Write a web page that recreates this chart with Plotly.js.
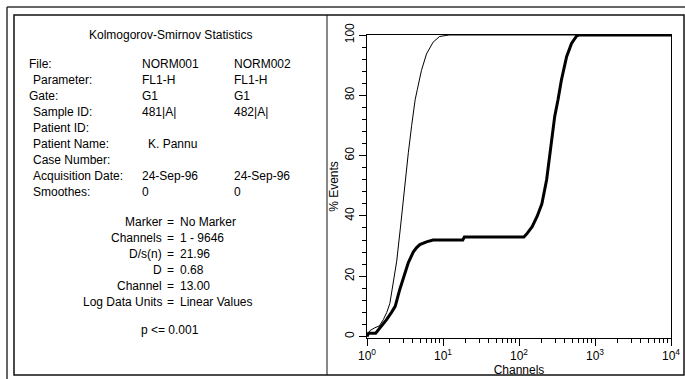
<!DOCTYPE html>
<html>
<head>
<meta charset="utf-8">
<script src="https://cdn.plot.ly/plotly-3.0.1.min.js"></script>
<style>html,body{margin:0;padding:0;background:#fff;}#chart{width:685px;height:379px;}</style>
</head>
<body>
<div id="chart"></div>
<script>
// ---- data ----
const norm001Channels = [1, 1.1, 1.27, 1.45, 1.64, 1.82, 2.0, 2.12, 2.25, 2.46, 2.75, 2.95, 3.16, 3.5, 3.87, 4.1, 4.3, 4.6, 5.2, 6.06, 7.4, 9.0, 12, 10000];
const norm001Events   = [0, 2, 2.9, 3.5, 5.6, 8, 11, 15, 19, 25, 36, 44, 50, 61, 70, 75, 78.5, 82, 88.2, 93.7, 97.6, 99.5, 100, 100];
const norm002Channels = [1, 1.05, 1.3, 1.48, 1.81, 2.1, 2.35, 2.7, 3.15, 3.5, 4.06, 4.5, 4.96, 6.06, 7.4, 18.2, 19.1, 116, 128, 149, 173, 200, 231, 265, 295, 326, 361, 423, 491, 570, 620, 10000];
const norm002Events   = [0, 1.1, 1.1, 2.8, 5.6, 8, 10, 15.6, 21, 24.5, 28, 29.5, 30.5, 31.4, 32, 32, 33, 33, 34.2, 36.4, 39.8, 44, 52, 65, 73, 78.5, 85, 92.8, 97.2, 99.6, 100, 100];

const xTickVals = [1, 10, 100, 1000, 10000];
const xTickText = ['10<sup>0</sup>', '10<sup>1</sup>', '10<sup>2</sup>', '10<sup>3</sup>', '10<sup>4</sup>'];

const statsTitle = 'Kolmogorov-Smirnov Statistics';
const infoLabels = ['File:', 'Parameter:', 'Gate:', 'Sample ID:', 'Patient ID:', 'Patient Name:', 'Case Number:', 'Acquisition Date:', 'Smoothes:'];
const infoCol1   = ['NORM001', 'FL1-H', 'G1', '481|A|', '', 'K. Pannu', '', '24-Sep-96', '0'];
const infoCol2   = ['NORM002', 'FL1-H', 'G1', '482|A|', '', '', '', '24-Sep-96', '0'];
const statNames  = ['Marker', 'Channels', 'D/s(n)', 'D', 'Channel', 'Log Data Units'];
const statValues = ['No Marker', '1 - 9646', '21.96', '0.68', '13.00', 'Linear Values'];
const pValueText = 'p <= 0.001';

// ---- geometry helpers (pixel -> paper) ----
const W = 685, H = 379, L = 367, R = 671, T = 35, B = 338;
const PW = R - L, PH = B - T;
const px = x => (x - L) / PW;
const py = y => (B - y) / PH;

const FONT = 'Liberation Sans, Arial, sans-serif';
const ann = [];
function txt(text, x, y, anchor, size) {
  ann.push({text: text, xref: 'paper', yref: 'paper', x: px(x), y: py(y),
    xanchor: anchor || 'left', yanchor: 'middle', showarrow: false,
    font: {family: FONT, size: size || 12, color: '#000'}});
}
txt(statsTitle, 170, 35, 'center');
const rowY0 = 64, rowDy = 16;
infoLabels.forEach((lab, i) => {
  const y = rowY0 + i * rowDy;
  const lx = (lab === 'File:' || lab === 'Gate:') ? 27 : 31;
  txt(lab, lx, y, 'left');
  if (infoCol1[i]) txt(infoCol1[i], lab === 'Patient Name:' ? 146 : 140, y, 'left');
  if (infoCol2[i]) txt(infoCol2[i], 232, y, 'left');
});
const statY0 = 222, statDy = 16;
statNames.forEach((n, i) => {
  const y = statY0 + i * statDy;
  txt(n, 164, y, 'right');
  txt('=', 170.5, y, 'center');
  txt(statValues[i], 178, y, 'left');
});
txt(pValueText, 170, 330, 'center');

const frameColor = '#333';
const shapes = [
  {type: 'line', xref: 'paper', yref: 'paper', x0: px(7), y0: py(7), x1: px(685), y1: py(7), line: {color: frameColor, width: 1.5}},
  {type: 'line', xref: 'paper', yref: 'paper', x0: px(7), y0: py(7), x1: px(7), y1: py(379), line: {color: frameColor, width: 1.5}},
  {type: 'rect', xref: 'paper', yref: 'paper', x0: px(14), y0: py(15), x1: px(684), y1: py(375), line: {color: '#111', width: 1.5}},
  {type: 'line', xref: 'paper', yref: 'paper', x0: px(327), y0: py(15), x1: px(327), y1: py(375), line: {color: '#111', width: 1}}
];

const minorX = [];
[1, 10, 100, 1000].forEach(d => { for (let k = 2; k <= 9; k++) minorX.push(k * d); });

const traces = [
  {x: norm001Channels, y: norm001Events, type: 'scatter', mode: 'lines', name: 'NORM001',
   line: {color: '#000', width: 1}, hoverinfo: 'skip'},
  {x: norm002Channels, y: norm002Events, type: 'scatter', mode: 'lines', name: 'NORM002',
   line: {color: '#000', width: 3}, hoverinfo: 'skip'}
];

const layout = {
  width: W, height: H,
  margin: {l: L, r: W - R, t: T, b: H - B, pad: 0},
  paper_bgcolor: '#fff', plot_bgcolor: '#fff',
  showlegend: false,
  font: {family: FONT, size: 12, color: '#000'},
  xaxis: {
    type: 'log', range: [0, 4], tickmode: 'array', tickvals: xTickVals, ticktext: xTickText,
    ticks: 'outside', ticklen: 7, tickwidth: 1, tickcolor: '#000',
    showline: true, linecolor: '#000', linewidth: 1, mirror: true,
    showgrid: false, zeroline: false,
    minor: {tickmode: 'array', tickvals: minorX, ticks: 'outside', ticklen: 4, tickcolor: '#000', showgrid: false},
    tickfont: {family: FONT, size: 12, color: '#000'},
    title: {text: 'Channels', font: {family: FONT, size: 12, color: '#000'}, standoff: 0}
  },
  yaxis: {
    range: [-0.5, 100], tickmode: 'linear', tick0: 0, dtick: 20,
    ticks: 'outside', ticklen: 7, tickwidth: 1, tickcolor: '#000', tickangle: -90,
    showline: true, linecolor: '#000', linewidth: 1, mirror: true,
    showgrid: false, zeroline: false,
    minor: {dtick: 4, ticks: 'outside', ticklen: 4, tickcolor: '#000', showgrid: false},
    tickfont: {family: FONT, size: 12, color: '#000'},
    title: {text: '% Events', font: {family: FONT, size: 12, color: '#000'}, standoff: 2}
  },
  annotations: ann,
  shapes: shapes
};

Plotly.newPlot('chart', traces, layout, {staticPlot: true, displayModeBar: false});
</script>
</body>
</html>
